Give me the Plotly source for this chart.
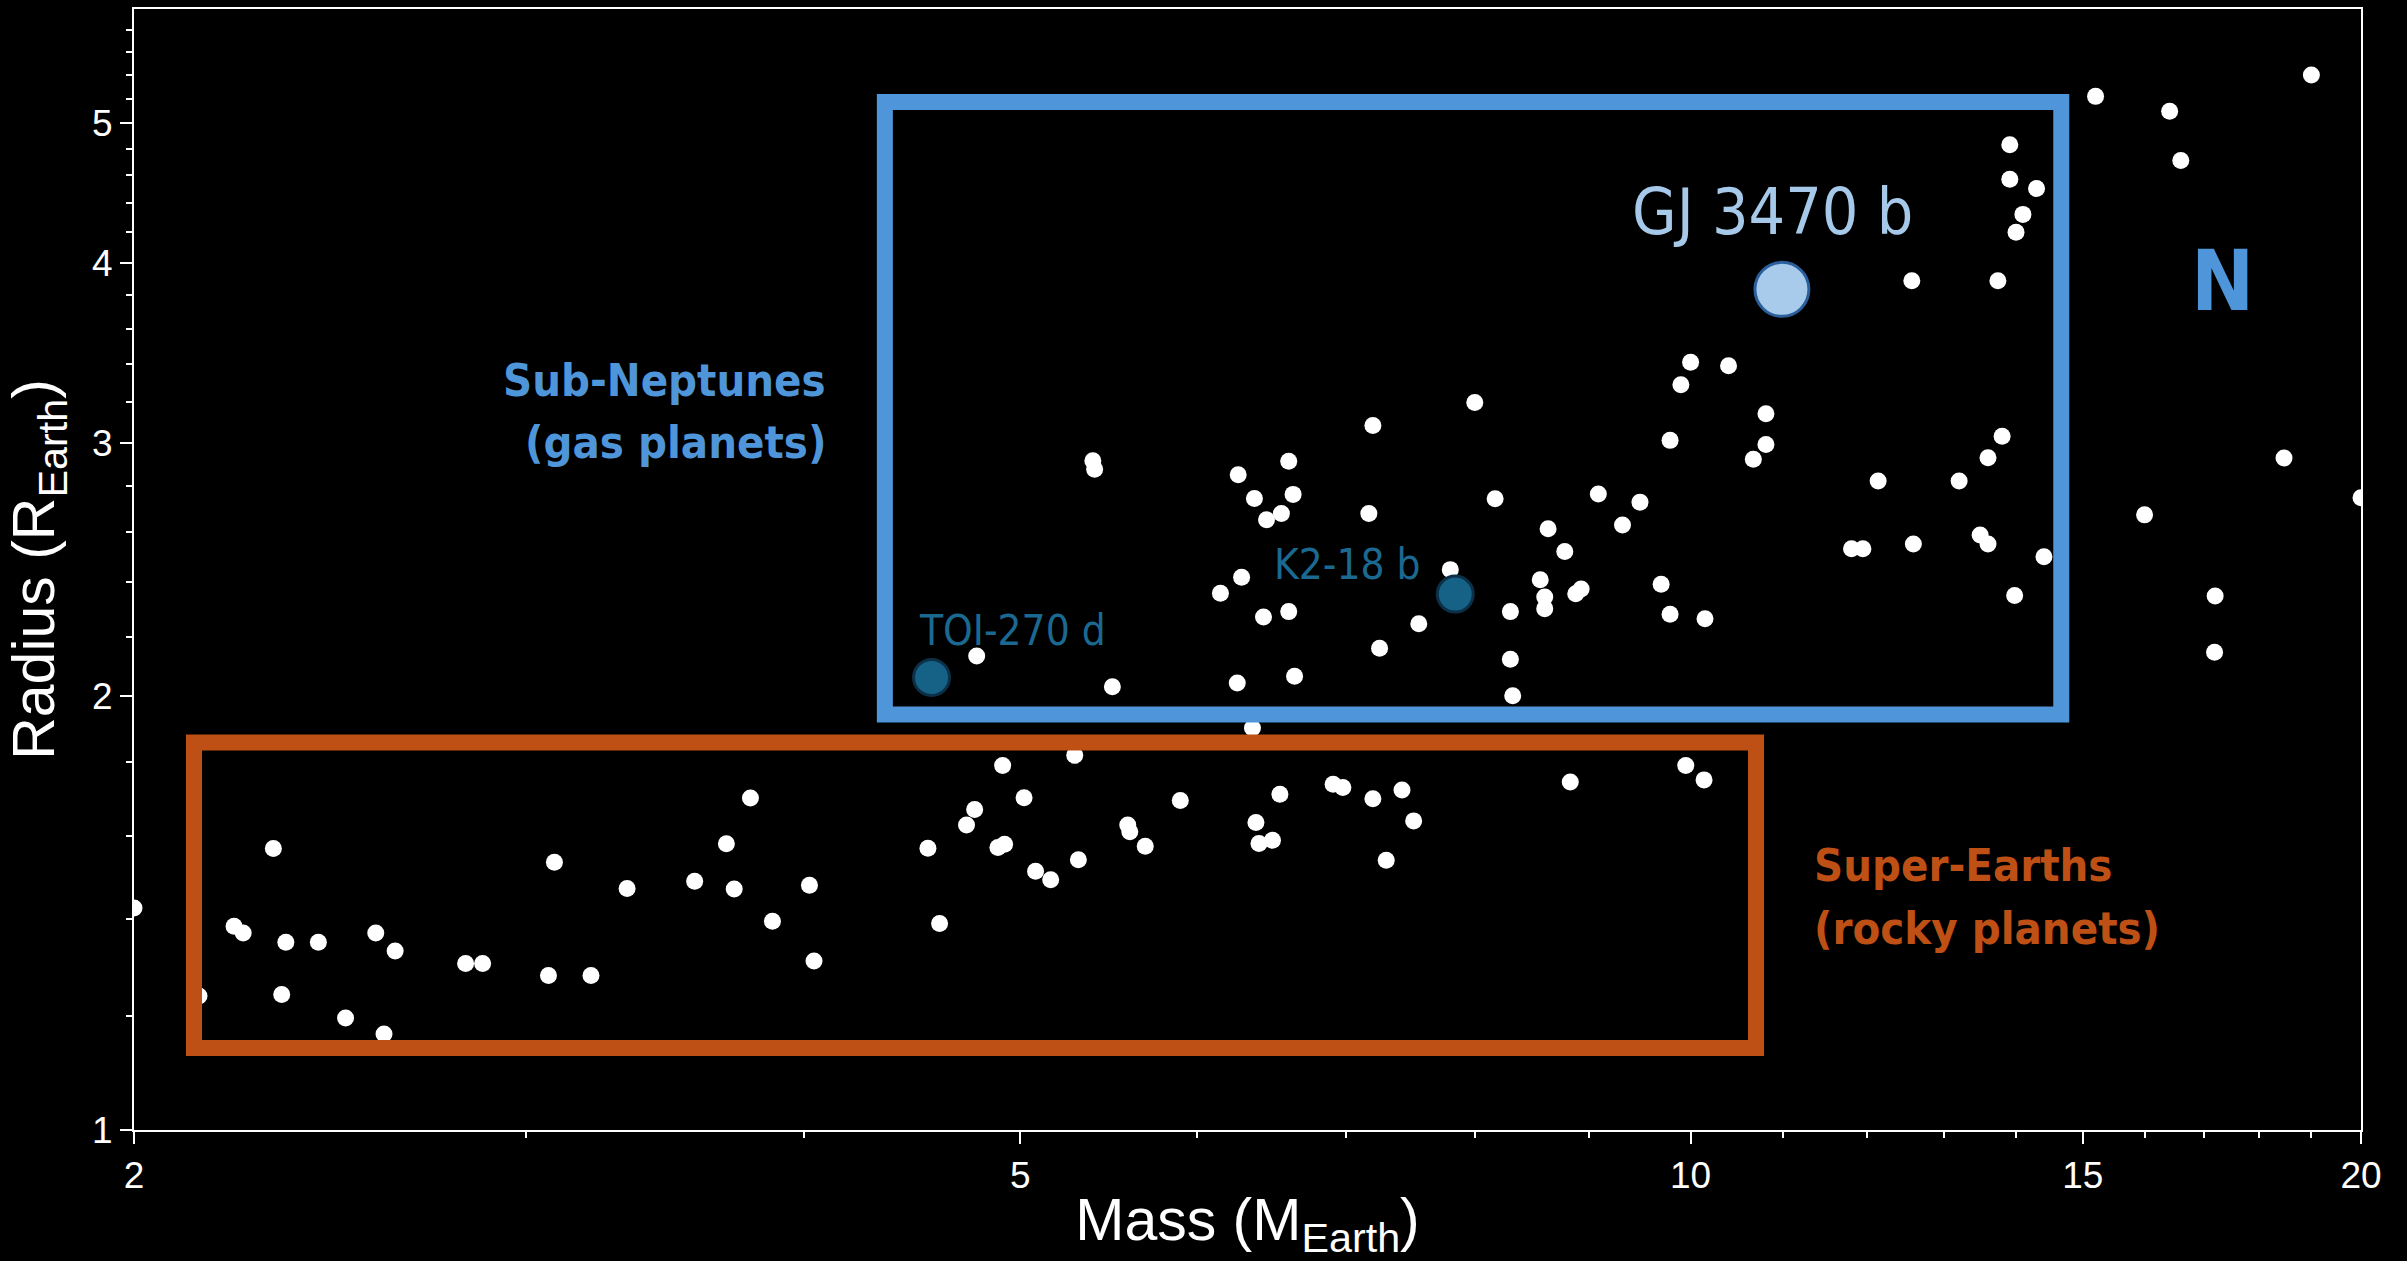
import math
import plotly.graph_objects as go

# ---------------- data ----------------
mass = [
    2.00, 2.31, 2.218, 2.239, 2.34, 2.42, 2.568, 2.62, 2.139, 2.33, 2.489, 2.59,
    2.818, 2.868, 3.07, 3.208, 3.089, 3.33, 3.571, 3.72, 3.783, 3.69, 3.87, 4.021, 4.04,
    4.78, 5.50, 6.258, 6.64, 7.25, 8.30, 8.32, 6.357, 5.29, 4.91, 5.02, 4.77, 4.73,
    4.545, 4.886, 4.92, 5.08, 5.16, 5.31, 4.60, 5.588, 5.60, 5.69, 5.90, 6.54, 6.38,
    6.40, 6.49, 6.91, 6.98, 7.20, 7.42, 7.51, 7.30,
    17.19, 8.83, 9.95, 10.14,
    5.39, 5.40, 6.264, 6.60, 6.37, 6.63, 6.55, 6.45, 7.20, 7.17, 8.00, 8.17, 6.286,
    6.15, 6.43, 6.60, 7.80, 7.55, 8.30,
    19.0, 15.2, 16.41, 16.6, 13.91, 13.91, 14.30, 14.10, 14.0, 12.57, 13.74, 10.0,
    10.40, 9.90, 10.81, 10.81, 10.67, 9.79, 9.09, 9.49, 9.32, 8.63, 8.78, 8.56, 8.60,
    8.60, 8.93, 8.88, 9.70, 9.79, 10.15, 12.14, 13.2, 13.6, 13.80, 11.81, 11.95, 12.59,
    13.49, 13.60, 14.41, 13.98, 18.47, 15.99, 20.0, 17.20,
]
radius = [
    1.426, 1.568, 1.385, 1.370, 1.350, 1.350, 1.370, 1.331, 1.239, 1.242, 1.196, 1.166,
    1.305, 1.305, 1.280, 1.280, 1.534, 1.471, 1.488, 1.470, 1.700, 1.580, 1.396, 1.479, 1.310,
    2.133, 2.031, 2.043, 2.065, 2.160, 2.122, 2.002, 1.901, 1.820, 1.791, 1.701, 1.669, 1.628,
    1.569, 1.571, 1.579, 1.512, 1.492, 1.540, 1.391, 1.628, 1.611, 1.574, 1.693, 1.710, 1.635,
    1.581, 1.589, 1.738, 1.729, 1.698, 1.722, 1.639, 1.539,
    2.146, 1.744, 1.791, 1.750,
    2.914, 2.875, 2.850, 2.912, 2.744, 2.762, 2.679, 2.652, 3.083, 2.679, 3.199, 2.743, 2.419,
    2.358, 2.270, 2.290, 2.449, 2.246, 2.290,
    5.40, 5.218, 5.095, 4.71, 4.83, 4.57, 4.503, 4.321, 4.200, 3.886, 3.886, 3.412,
    3.392, 3.291, 3.142, 2.991, 2.922, 3.011, 2.764, 2.728, 2.630, 2.614, 2.521, 2.410, 2.344,
    2.301, 2.374, 2.356, 2.392, 2.280, 2.264, 2.822, 2.822, 2.929, 3.031, 2.532, 2.532, 2.551,
    2.588, 2.551, 2.500, 2.350, 2.927, 2.673, 2.747, 2.348,
]

planet_names = ["GJ 3470 b", "K2-18 b", "TOI-270 d"]
planet_mass = [10.99, 7.84, 4.562]
planet_radius = [3.833, 2.355, 2.061]

# regions: [mass_min, mass_max, radius_min, radius_max]
subneptune_box = [4.347, 14.67, 1.943, 5.171]
superearth_box = [2.128, 10.70, 1.140, 1.858]

x_ticks = [2, 5, 10, 15, 20]
x_ticktext = ["2", "5", "10", "15", "20"]
x_minor = [3, 4, 6, 7, 8, 9, 11, 12, 13, 14, 16, 17, 18, 19]
y_ticks = [1, 2, 3, 4, 5]
y_ticktext = ["1", "2", "3", "4", "5"]
y_minor = [1.2, 1.4, 1.6, 1.8, 2.2, 2.4, 2.6, 2.8, 3.2, 3.4, 3.6, 3.8,
           4.2, 4.4, 4.6, 4.8, 5.2, 5.4, 5.6, 5.8]
x_range = [2, 20]
y_range = [1, 6]

# ---------------- styles ----------------
BLUE = "#4F95D9"
ORANGE = "#BE5016"
SANS = "Liberation Sans, Arial, Helvetica, sans-serif"
NARROW = '"DejaVu Sans Condensed", "Liberation Sans Narrow", sans-serif'

fig = go.Figure()

fig.add_trace(go.Scatter(
    x=mass, y=radius, mode="markers",
    marker=dict(size=17, color="white", line=dict(width=0)),
    hoverinfo="x+y", showlegend=False,
))

# highlighted planets
fig.add_trace(go.Scatter(
    x=planet_mass[1:], y=planet_radius[1:], mode="markers",
    marker=dict(size=36, color="#166287", line=dict(width=3, color="#0B3047")),
    text=planet_names[1:], showlegend=False,
))
fig.add_trace(go.Scatter(
    x=planet_mass[:1], y=planet_radius[:1], mode="markers",
    marker=dict(size=54, color="#A8CBEC", line=dict(width=3, color="#2B5F9C")),
    text=planet_names[:1], showlegend=False,
))

# region boxes
for box, col in [(subneptune_box, BLUE), (superearth_box, ORANGE)]:
    fig.add_shape(type="rect", xref="x", yref="y",
                  x0=box[0], x1=box[1], y0=box[2], y1=box[3],
                  line=dict(color=col, width=16), fillcolor="rgba(0,0,0,0)",
                  layer="above")

lx = [math.log10(v) for v in planet_mass]
ly = [math.log10(v) for v in planet_radius]

annotations = [
    dict(x=lx[0], y=ly[0], xref="x", yref="y", text=planet_names[0],
         showarrow=False, xanchor="center", yanchor="middle", xshift=-9, yshift=77,
         font=dict(family=NARROW, size=64, color="#A6C9EA")),
    dict(x=lx[1], y=ly[1], xref="x", yref="y", text=planet_names[1],
         showarrow=False, xanchor="right", yanchor="middle", xshift=-32, yshift=30,
         font=dict(family=NARROW, size=42, color="#1B6991")),
    dict(x=lx[2], y=ly[2], xref="x", yref="y", text=planet_names[2],
         showarrow=False, xanchor="left", yanchor="middle", xshift=-15, yshift=47,
         font=dict(family=NARROW, size=42, color="#1B6991")),
    dict(x=0.3115, y=0.669, xref="paper", yref="paper", text="<b>Sub-Neptunes</b>",
         showarrow=False, xanchor="right", yanchor="middle",
         font=dict(family=NARROW, size=45, color=BLUE)),
    dict(x=0.3115, y=0.613, xref="paper", yref="paper", text="<b>(gas planets)</b>",
         showarrow=False, xanchor="right", yanchor="middle",
         font=dict(family=NARROW, size=45, color=BLUE)),
    dict(x=0.7534, y=0.236, xref="paper", yref="paper", text="<b>Super-Earths</b>",
         showarrow=False, xanchor="left", yanchor="middle",
         font=dict(family=NARROW, size=45, color=ORANGE)),
    dict(x=0.7534, y=0.180, xref="paper", yref="paper", text="<b>(rocky planets)</b>",
         showarrow=False, xanchor="left", yanchor="middle",
         font=dict(family=NARROW, size=45, color=ORANGE)),
    dict(x=0.9376, y=0.7578, xref="paper", yref="paper", text="<b>N</b>",
         showarrow=False, xanchor="center", yanchor="middle",
         font=dict(family=NARROW, size=84, color=BLUE)),
]

axis_common = dict(
    showline=True, linecolor="white", linewidth=2, mirror=True,
    showgrid=False, zeroline=False,
    ticks="outside", ticklen=12, tickwidth=2, tickcolor="white",
    tickfont=dict(family=SANS, size=37, color="white"),
)

fig.update_layout(
    width=2407, height=1261,
    paper_bgcolor="black", plot_bgcolor="black",
    margin=dict(l=134, r=46, t=7, b=127),
    showlegend=False,
    annotations=annotations,
    xaxis=dict(
        type="log", range=[math.log10(x_range[0]), math.log10(x_range[1])],
        tickmode="array", tickvals=x_ticks, ticktext=x_ticktext,
        minor=dict(tickmode="array", tickvals=x_minor, ticks="outside",
                   ticklen=6, tickwidth=1.5, tickcolor="white", showgrid=False),
        title=dict(text="Mass (M<sub>Earth</sub>)", standoff=16,
                   font=dict(family=SANS, size=59, color="white")),
        **axis_common,
    ),
    yaxis=dict(
        type="log", range=[math.log10(y_range[0]), math.log10(y_range[1])],
        tickmode="array", tickvals=y_ticks, ticktext=y_ticktext,
        minor=dict(tickmode="array", tickvals=y_minor, ticks="outside",
                   ticklen=6, tickwidth=1.5, tickcolor="white", showgrid=False),
        title=dict(text="Radius (R<sub>Earth</sub>)", standoff=18,
                   font=dict(family=SANS, size=59, color="white")),
        **axis_common,
    ),
)

fig.write_html("out.html", include_plotlyjs=True, full_html=True,
               config={"displayModeBar": False})
